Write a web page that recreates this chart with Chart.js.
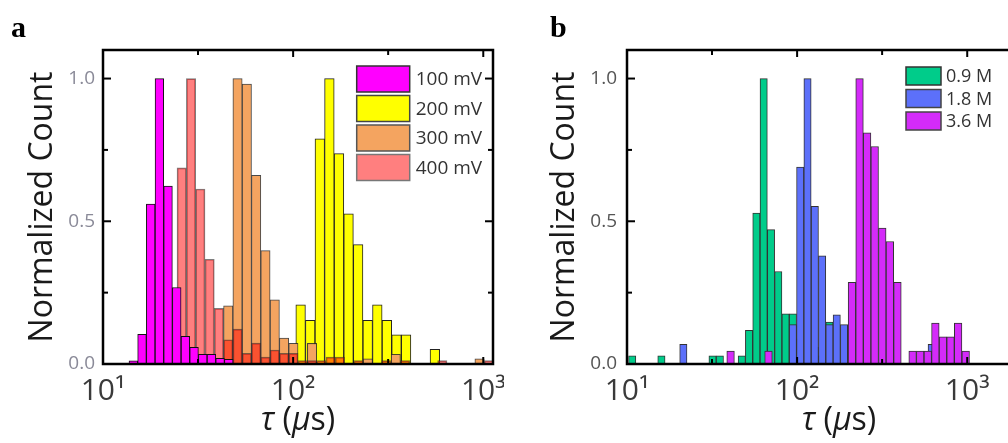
<!DOCTYPE html>
<html>
<head>
<meta charset="utf-8">
<title>Dwell time histograms</title>
<script src="https://cdn.jsdelivr.net/npm/chart.js@4.4.1/dist/chart.umd.min.js"></script>
<style>
  html, body { margin: 0; padding: 0; background: white; overflow: hidden; }
  #figure { position: relative; width: 1008px; height: 443px; overflow: hidden; }
  #chart-a { position: absolute; left: 0; top: 0; }
  #chart-b { position: absolute; left: 504px; top: 0; }
  .panel-tag { position: absolute; top: 12px; font: bold 30px 'Liberation Serif', 'Times New Roman', serif; line-height: 30px; color: black; }
</style>
</head>
<body>
<div id="figure">
  <canvas id="chart-a" width="504" height="443"></canvas>
  <canvas id="chart-b" width="590" height="443"></canvas>
  <div class="panel-tag" style="left: 11px">a</div>
  <div class="panel-tag" style="left: 550px">b</div>
</div>
<script>
/* panel a - bin centers (us) and normalized counts for each voltage */
let tau100 = [14.44, 16.04, 17.82, 19.80, 21.98, 24.42, 27.13, 30.13, 33.46, 37.18, 41.30, 45.86]
let count100 = [0.011, 0.104, 0.56, 1.0, 0.623, 0.268, 0.097, 0.058, 0.034, 0.034, 0.020, 0.016]

let tau200 = [109.5, 123.0, 138.1, 155.1, 174.3, 195.7, 219.7, 246.8, 277.2, 311.3, 349.7, 392.7, 441.0, 495.3, 556.3]
let count200 = [0.207, 0.153, 0.789, 1.0, 0.737, 0.526, 0.418, 0.153, 0.207, 0.153, 0.102, 0.102, 0, 0, 0.051]

// 300 mV and 400 mV use the same bins
let tau300 = [25.94, 29.04, 32.50, 36.38, 40.71, 45.57, 51.00, 57.09, 63.90, 71.52, 80.05, 89.61, 100.3, 112.3, 125.7, 140.7, 157.4,
  176.2, 197.2, 220.8, 247.1, 276.6, 309.6, 346.6, 387.8, 434.2, 485.9, 543.9, 608.8, 681.5, 762.6, 853.7, 955.7, 1069.8]
let count300 = [0, 0, 0, 0, 0, 0.204, 1.0, 0.981, 0.661, 0.397, 0.225, 0.091, 0.072, 0, 0.072, 0, 0,
  0, 0, 0, 0.018, 0, 0, 0.034, 0, 0, 0, 0, 0, 0, 0, 0, 0.018, 0]
let count400 = [0.687, 1.0, 0.613, 0.367, 0.195, 0.085, 0.122, 0.037, 0.073, 0.024, 0.049, 0.037, 0.037, 0.012, 0.012, 0.012, 0.024,
  0.024, 0, 0.012, 0, 0, 0.012, 0, 0.012, 0, 0, 0, 0.012, 0, 0, 0, 0, 0.012]

/* panel b - bin centers (us) and normalized counts for each concentration */
let tauB = [10.73, 11.84, 13.07, 14.43, 15.93, 17.59, 19.42, 21.44, 23.66, 26.12, 28.84, 31.83, 35.14, 38.80, 42.83,
  47.28, 52.19, 57.61, 63.60, 70.22, 77.50, 85.55, 94.45, 104.3, 115.1, 127.1, 140.3, 154.9, 171.0, 188.7,
  208.3, 229.9, 253.9, 280.2, 309.4, 341.6, 377.0, 416.3, 459.4, 507.3, 560.0, 618.2]
let count09 = [0.029, 0, 0, 0, 0.029, 0, 0, 0, 0, 0, 0, 0.029, 0.029, 0, 0,
  0.029, 0.118, 0.529, 1.0, 0.471, 0.324, 0.176, 0.176, 0.088, 0.059, 0.059, 0.029, 0.147, 0, 0,
  0, 0, 0, 0, 0, 0, 0, 0, 0, 0, 0, 0]
let count18 = [0, 0, 0, 0, 0, 0, 0, 0.069, 0, 0, 0, 0, 0, 0, 0,
  0, 0, 0, 0, 0, 0, 0, 0.138, 0.690, 1.0, 0.552, 0.379, 0.138, 0.172, 0.138,
  0.103, 0.069, 0.034, 0.034, 0, 0, 0, 0, 0, 0, 0, 0.069]

let tau36 = [40.64, 45.03, 49.90, 55.28, 61.27, 67.88, 75.22, 83.37, 92.39, 102.4, 113.4, 125.7, 139.3, 154.3, 171.1, 189.5,
  210.1, 232.8, 257.9, 285.9, 316.7, 351.0, 388.9, 430.9, 477.5, 529.1, 586.4, 649.8, 720.0, 797.9, 884.1, 979.7]
let count36 = [0.045, 0, 0, 0, 0, 0.045, 0, 0, 0, 0, 0, 0, 0, 0, 0, 0,
  0.286, 1.0, 0.810, 0.762, 0.476, 0.429, 0.286, 0, 0.045, 0.045, 0.045, 0.143, 0.095, 0.095, 0.143, 0.045]

/* axis ticks and titles */
let xTicks = [10, 100, 1000]
let xTickLabels = ['10¹', '10²', '10³']
let xMinorTicks = [31.6, 316]
let yTicks = [0, 0.5, 1.0]
let yTickLabels = ['0.0', '0.5', '1.0']
let yMinorTicks = [0.25, 0.75]
let xTitleParts = [['τ', 'italic'], [' (', 'normal'], ['μ', 'italic'], ['s)', 'normal']]
let yTitle = 'Normalized Count'

// black box round the plot with inward ticks
let frame = {
  id: 'frame',
  afterDatasetsDraw(chart) {
    let ctx = chart.ctx
    let a = chart.chartArea
    let x = chart.scales.x
    let y = chart.scales.y
    let line = (x1, y1, x2, y2) => {
      ctx.beginPath()
      ctx.moveTo(x1, y1)
      ctx.lineTo(x2, y2)
      ctx.stroke()
    }
    ctx.save()
    ctx.strokeStyle = '#000'
    ctx.lineWidth = 2
    yTicks.concat(yMinorTicks).forEach(v => {
      let len = yTicks.includes(v) ? 8 : 5
      let py = y.getPixelForValue(v)
      line(a.left, py, a.left + len, py)
      line(a.right, py, a.right - len, py)
    })
    xTicks.concat(xMinorTicks).forEach(v => {
      let len = xTicks.includes(v) ? 7 : 5
      let px = x.getPixelForValue(v)
      line(px, a.top, px, a.top + len)
      line(px, a.bottom, px, a.bottom - len)
    })
    ctx.lineWidth = 2.5
    ctx.strokeRect(a.left, a.top, a.right - a.left, a.bottom - a.top)
    ctx.restore()
  }
}

// legend with big colour boxes, inside the plot
let boxLegend = {
  id: 'boxLegend',
  afterDatasetsDraw(chart, args, opts) {
    let ctx = chart.ctx
    let a = chart.chartArea
    let x0 = a.right - opts.right
    ctx.save()
    ctx.font = opts.font
    ctx.textBaseline = 'middle'
    chart.data.datasets.forEach((ds, i) => {
      let y0 = a.top + opts.top + i * opts.step
      ctx.fillStyle = 'white'
      ctx.fillRect(x0, y0, opts.boxW, opts.boxH)
      ctx.fillStyle = ds.backgroundColor
      ctx.fillRect(x0, y0, opts.boxW, opts.boxH)
      ctx.lineWidth = 1.5
      ctx.strokeStyle = ds.legendBorder
      ctx.strokeRect(x0, y0, opts.boxW, opts.boxH)
      ctx.fillStyle = '#333'
      ctx.fillText(ds.label, x0 + opts.boxW + opts.gap, y0 + opts.boxH / 2 + 1)
    })
    ctx.restore()
  }
}

// x title with italic greek letters
let tauTitle = {
  id: 'tauTitle',
  afterDraw(chart, args, opts) {
    let ctx = chart.ctx
    let a = chart.chartArea
    ctx.save()
    ctx.fillStyle = '#1a1a1a'
    ctx.textBaseline = 'alphabetic'
    let widths = xTitleParts.map(p => {
      ctx.font = p[1] + ' ' + opts.size + 'px "Open Sans"'
      return ctx.measureText(p[0]).width
    })
    let total = widths.reduce((s, w) => s + w, 0)
    let px = (a.left + a.right) / 2 - total / 2
    xTitleParts.forEach((p, i) => {
      ctx.font = p[1] + ' ' + opts.size + 'px "Open Sans"'
      ctx.fillText(p[0], px, opts.baseline)
      px += widths[i]
    })
    ctx.restore()
  }
}

function bars(label, taus, counts, color, border, legendBorder, order) {
  return {
    label: label,
    data: taus.map((t, i) => ({ x: t, y: counts[i] })),
    backgroundColor: color,
    borderColor: border,
    borderWidth: 1,
    legendBorder: legendBorder,
    order: order
  }
}

function makeHistogram(canvasId, datasets, setup) {
  let ctx = document.querySelector(canvasId).getContext('2d')
  return new Chart(ctx, {
    type: 'bar',
    data: { datasets: datasets },
    options: {
      responsive: false,
      animation: false,
      layout: { padding: { top: 50, right: setup.padRight, left: 0, bottom: 0 } },
      datasets: { bar: { barThickness: 'flex', barPercentage: 1, categoryPercentage: 1 } },
      scales: {
        x: {
          type: 'logarithmic',
          min: 10,
          max: setup.xMax,
          offset: false,
          stacked: true,
          afterBuildTicks: s => { s.ticks = xTicks.map(v => ({ value: v })) },
          ticks: {
            callback: (v, i) => xTickLabels[i],
            autoSkip: false,
            maxRotation: 0,
            color: '#3a3a3a',
            font: { family: 'Open Sans', size: 30 },
            padding: 9
          },
          grid: { display: false, drawTicks: false, offset: false },
          border: { display: false },
          // fixed height, and no extra room for the end labels
          afterFit: s => {
            s.height = 79
            s.paddingLeft = 0
            s.paddingRight = 0
          }
        },
        y: {
          min: 0,
          max: 1.1,
          stacked: false,
          afterBuildTicks: s => { s.ticks = yTicks.map(v => ({ value: v })) },
          ticks: {
            callback: (v, i) => yTickLabels[i],
            color: setup.yTickColor,
            font: { family: 'Open Sans', size: 19 },
            padding: setup.yTickPad
          },
          grid: { display: false, drawTicks: false },
          border: { display: false },
          title: {
            display: true,
            text: yTitle,
            color: '#1a1a1a',
            font: { family: 'Open Sans', size: 32 },
            padding: { top: setup.yTitlePad, bottom: 0 }
          },
          afterFit: s => {
            s.width = setup.yWidth
            s.paddingTop = 0
            s.paddingBottom = 0
          }
        }
      },
      plugins: {
        legend: { display: false },
        tooltip: { enabled: false },
        boxLegend: setup.legend,
        tauTitle: { size: 32, baseline: 430 }
      }
    },
    plugins: [frame, boxLegend, tauTitle]
  })
}

// panel a: draw order front to back is 100, 400, 300, 200 mV
let chartA = makeHistogram('#chart-a', [
  bars('100 mV', tau100, count100, '#FF00FF', '#111', '#333', 0),
  bars('200 mV', tau200, count200, '#FFFF00', '#222', '#444', 3),
  bars('300 mV', tau300, count300, '#F4A460', 'rgba(40,40,40,0.85)', '#555', 2),
  bars('400 mV', tau300, count400, 'rgba(255,0,0,0.5)', 'rgba(40,40,40,0.6)', '#777', 1)
], {
  padRight: 11,
  xMax: 1125,
  yWidth: 103,
  yTickColor: '#8a8a98',
  yTickPad: 8,
  yTitlePad: 24,
  legend: { right: 136.3, top: 16, boxW: 53, boxH: 26, step: 29.5, gap: 6, font: '19px "Open Sans"' }
})

// panel b: front to back is 3.6, 1.8, 0.9 M
let chartB = makeHistogram('#chart-b', [
  bars('0.9 M', tauB, count09, '#00CC8A', '#333', '#333', 2),
  bars('1.8 M', tauB, count18, '#5C70FA', '#333', '#444', 1),
  bars('3.6 M', tau36, count36, '#D42BF9', '#333', '#444', 0)
], {
  padRight: 43,
  xMax: 3108,
  yWidth: 123,
  yTickColor: '#555',
  yTickPad: 10,
  yTitlePad: 42,
  legend: { right: 145, top: 17, boxW: 35, boxH: 18, step: 22.5, gap: 5, font: '18px "Open Sans"' }
})
</script>
</body>
</html>
